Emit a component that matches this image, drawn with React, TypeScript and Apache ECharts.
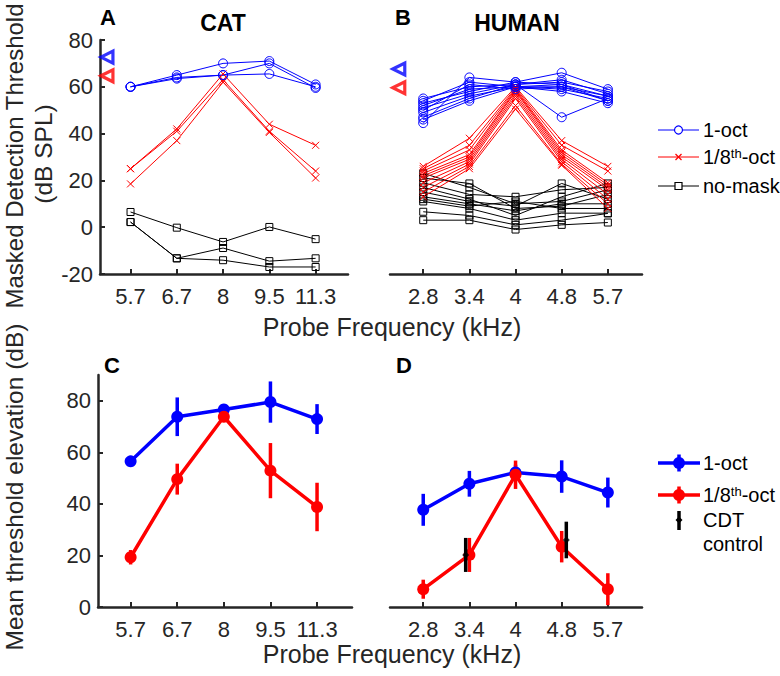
import React, { useEffect, useRef } from 'react';
import * as echarts from 'echarts';

// ---------- data ----------
const catFreqLabels = ['5.7', '6.7', '8', '9.5', '11.3'];
const humanFreqLabels = ['2.8', '3.4', '4', '4.8', '5.7'];
const tickIdx = [0, 1, 2, 3, 4];
const yTicksTop = [-20, 0, 20, 40, 60, 80];
const yTicksBottom = [0, 20, 40, 60, 80];

// Panel A: individual cats (dB SPL)
const catOct1 = [
  [60, 65, 70, 71, 61],
  [60, 64, 65, 70, 59.5],
  [60, 63.5, 65, 65.5, 60],
];
const catOct8 = [
  [25, 42, 65.5, 44, 35],
  [25, 41, 63, 41, 24],
  [18.5, 37, 62, 40.5, 21],
];
const catNoMask = [
  [6.5, -0.2, -6.3, 0.1, -5.1],
  [2.2, -13.3, -8.9, -14.5, -13.3],
  [2.2, -13.3, -14.1, -17, -17],
];
const catRefX = -0.51;
const catRefLevels = [72.7, 64.7]; // 1-oct, 1/8th-oct

// Panel B: individual humans (dB SPL)
const humanOct1 = [
  [55, 60, 61, 63, 57],
  [54, 62, 60, 61, 56],
  [53, 58, 62, 66, 59],
  [52, 59, 60, 59, 55],
  [51, 57, 61, 62, 58],
  [50, 61, 59, 60, 54],
  [49, 56, 60, 58, 53],
  [47, 55, 61, 47, 55],
  [46, 54, 60, 60, 56],
  [44.5, 64, 62, 61, 54],
];
const humanOct8 = [
  [26, 38, 60, 37, 26],
  [25, 35, 59.5, 35, 24],
  [24, 33, 59, 33, 19],
  [23, 31, 58.5, 32, 18],
  [22, 30, 58, 31, 17],
  [21, 29, 57, 30, 16],
  [19, 28, 56, 29, 14],
  [17, 27, 55, 28, 12],
  [15, 26, 52, 27, 10],
  [13, 25, 50.5, 26.5, 8],
];
const humanNoMask = [
  [23, 17, 10, 11, 16],
  [21, 18.7, 8, 9, 14],
  [19, 14, 13, 16, 17],
  [17, 12, 5, 13, 18.7],
  [15, 11, 9, 18.7, 12],
  [13, 10, 7, 10, 10],
  [12, 9, 11, 8, 8],
  [11, 8, 3, 6, 6],
  [6.6, 5, 1, 3, 5.9],
  [3, 3, -1, 1, 2],
];
const humanRefX = -0.53;
const humanRefLevels = [67.6, 59.6];

// Panel C: cat means (dB)
const catMean1 = [56.5, 73.8, 76.6, 79.5, 72.9];
const catErr1 = [1.2, 7.5, 1.0, 8.0, 5.8];
const catMean8 = [19.3, 49.6, 73.8, 52.9, 38.8];
const catErr8 = [2.8, 6.0, 2.0, 10.7, 9.4];

// Panel D: human means (dB)
const humMean1 = [37.7, 47.8, 52.2, 50.6, 44.4];
const humErr1 = [6.2, 5.0, 3.0, 6.3, 5.8];
const humMean8 = [6.9, 20.2, 51.3, 23.4, 6.9];
const humErr8 = [3.7, 6.6, 5.5, 6.1, 6.2];
const cdtX = [0.92, 3.1];
const cdtMean = [20.2, 26.0];
const cdtErr = [6.6, 7.1];

// ---------- styles ----------
const FONT = '"Liberation Sans", Arial, Helvetica, sans-serif';
const AX = '#262626';
const BLUE = '#0000ff';
const RED = '#ff0000';
const BLACK = '#000000';
const X_PATH = 'path://M0,0L10,10M10,0L0,10';

const toPts = (vals: number[]) => vals.map((v, i) => [i, v]);

function xAxisCfg(grid: number, min: number, max: number, labels: string[]) {
  return {
    type: 'value', gridIndex: grid, min, max,
    axisLine: { show: true, onZero: false, lineStyle: { color: AX, width: 2.5 } },
    axisTick: { show: true, inside: true, length: 5, customValues: tickIdx, lineStyle: { color: AX, width: 2 } },
    axisLabel: {
      show: true, customValues: tickIdx, margin: 11, color: AX, fontSize: 22, fontFamily: FONT,
      formatter: (v: number) => labels[Math.round(v)] ?? '',
    },
    splitLine: { show: false },
  };
}

function yAxisCfg(grid: number, min: number, max: number, ticks: number[], visible: boolean) {
  return {
    type: 'value', gridIndex: grid, min, max,
    axisLine: { show: visible, onZero: false, lineStyle: { color: AX, width: 2.5 } },
    axisTick: { show: visible, inside: true, length: 5, customValues: ticks, lineStyle: { color: AX, width: 2 } },
    axisLabel: { show: visible, customValues: ticks, margin: 7, color: AX, fontSize: 22, fontFamily: FONT },
    splitLine: { show: false },
  };
}

function subjectSeries(groups: number[][], ax: number, color: string, symbol: string, size: number) {
  return groups.map((vals) => ({
    type: 'line', xAxisIndex: ax, yAxisIndex: ax, data: toPts(vals),
    symbol, symbolSize: size, showSymbol: true, silent: true,
    lineStyle: { color, width: 1 },
    itemStyle: { color: 'rgba(0,0,0,0)', borderColor: color, borderWidth: 1 },
    emphasis: { disabled: true }, z: 2,
  }));
}

function refSeries(ax: number, x: number, levels: number[]) {
  return [BLUE, RED].map((c, i) => ({
    type: 'scatter', xAxisIndex: ax, yAxisIndex: ax, data: [[x, levels[i]]],
    symbol: 'triangle', symbolRotate: 90, symbolSize: 12, silent: true,
    itemStyle: { color: '#ffffff', borderColor: c, borderWidth: 3.2 }, z: 3,
  }));
}

const errRender = (color: string, width: number) => (_p: any, api: any) => {
  const x = api.value(0);
  const y = api.value(1);
  const e = api.value(2);
  const a = api.coord([x, y + e]);
  const b = api.coord([x, y - e]);
  return {
    type: 'line',
    shape: { x1: a[0], y1: a[1], x2: b[0], y2: b[1] },
    style: { stroke: color, lineWidth: width },
  };
};

function meanSeries(ax: number, means: number[], errs: number[], color: string) {
  return [
    {
      type: 'custom', xAxisIndex: ax, yAxisIndex: ax, silent: true,
      data: means.map((v, i) => [i, v, errs[i]]), encode: { x: 0, y: 1 },
      renderItem: errRender(color, 3.5), z: 3,
    },
    {
      type: 'line', xAxisIndex: ax, yAxisIndex: ax, data: toPts(means), silent: true,
      symbol: 'circle', symbolSize: 12, showSymbol: true,
      lineStyle: { color, width: 3.5 }, itemStyle: { color }, emphasis: { disabled: true }, z: 3,
    },
  ];
}

function txt(x: number, y: number, text: string, size: number, o: any = {}) {
  return {
    type: 'text', x, y, rotation: o.rotation || 0, silent: true,
    style: {
      text, fontSize: size, fontFamily: FONT, fontWeight: o.bold ? 'bold' : 'normal',
      fill: o.color || AX, align: o.align || 'center', verticalAlign: 'middle',
      ...(o.rich ? { rich: o.rich } : {}),
    },
  };
}

const supRich = { sup: { fontSize: 13, fontFamily: FONT, fill: BLACK, verticalAlign: 'top', lineHeight: 12 } };

function buildGraphic() {
  const g: any[] = [];
  // panel letters and titles
  g.push(txt(108, 17, 'A', 22, { bold: true, color: BLACK }));
  g.push(txt(223, 23, 'CAT', 23, { bold: true, color: BLACK }));
  g.push(txt(403, 17, 'B', 22, { bold: true, color: BLACK }));
  g.push(txt(517, 23, 'HUMAN', 23, { bold: true, color: BLACK }));
  g.push(txt(112, 365, 'C', 22, { bold: true, color: BLACK }));
  g.push(txt(404, 365, 'D', 22, { bold: true, color: BLACK }));
  // axis titles
  g.push(txt(14, 156, 'Masked Detection Threshold', 24, { rotation: Math.PI / 2 }));
  g.push(txt(43, 154, '(dB SPL)', 24.5, { rotation: Math.PI / 2 }));
  g.push(txt(14, 487, 'Mean threshold elevation (dB)', 24.5, { rotation: Math.PI / 2 }));
  g.push(txt(392, 327, 'Probe Frequency (kHz)', 25));
  g.push(txt(392, 654, 'Probe Frequency (kHz)', 25));

  // top legend
  const lx0 = 658, lx1 = 699, mx = 678.5, tx = 703;
  const topItems = [
    { y: 130, color: BLUE, label: '1-oct', m: 'circle' },
    { y: 157, color: RED, label: '1/8{sup|th}-oct', m: 'x' },
    { y: 186, color: BLACK, label: 'no-mask', m: 'square' },
  ];
  topItems.forEach((it) => {
    g.push({ type: 'line', silent: true, shape: { x1: lx0, y1: it.y, x2: lx1, y2: it.y }, style: { stroke: it.color, lineWidth: 1 } });
    if (it.m === 'circle') {
      g.push({ type: 'circle', silent: true, shape: { cx: mx, cy: it.y, r: 4 }, style: { fill: '#fff', stroke: it.color, lineWidth: 1.2 } });
    } else if (it.m === 'x') {
      g.push({ type: 'line', silent: true, shape: { x1: mx - 3, y1: it.y - 3, x2: mx + 3, y2: it.y + 3 }, style: { stroke: it.color, lineWidth: 1.2 } });
      g.push({ type: 'line', silent: true, shape: { x1: mx - 3, y1: it.y + 3, x2: mx + 3, y2: it.y - 3 }, style: { stroke: it.color, lineWidth: 1.2 } });
    } else {
      g.push({ type: 'rect', silent: true, shape: { x: mx - 3.5, y: it.y - 3.5, width: 7, height: 7 }, style: { fill: '#fff', stroke: it.color, lineWidth: 1.2 } });
    }
    g.push(txt(tx, it.y, it.label, 20, { align: 'left', color: BLACK, rich: supRich }));
  });

  // bottom legend
  const botItems = [
    { y: 463, color: BLUE, label: '1-oct' },
    { y: 495, color: RED, label: '1/8{sup|th}-oct' },
  ];
  botItems.forEach((it) => {
    g.push({ type: 'line', silent: true, shape: { x1: lx0, y1: it.y, x2: 700, y2: it.y }, style: { stroke: it.color, lineWidth: 3.5 } });
    g.push({ type: 'line', silent: true, shape: { x1: 679, y1: it.y - 8.5, x2: 679, y2: it.y + 8.5 }, style: { stroke: it.color, lineWidth: 3.5 } });
    g.push({ type: 'circle', silent: true, shape: { cx: 679, cy: it.y, r: 6 }, style: { fill: it.color } });
    g.push(txt(tx, it.y, it.label, 20, { align: 'left', color: BLACK, rich: supRich }));
  });
  g.push({ type: 'line', silent: true, shape: { x1: 679, y1: 511, x2: 679, y2: 530 }, style: { stroke: BLACK, lineWidth: 3.5 } });
  g.push({ type: 'polygon', silent: true, shape: { points: [[679, 516.5], [682.5, 520], [679, 523.5], [675.5, 520]] }, style: { fill: BLACK } });
  g.push(txt(tx, 520, 'CDT', 20, { align: 'left', color: BLACK }));
  g.push(txt(tx, 544, 'control', 20, { align: 'left', color: BLACK }));
  return g;
}

export default function App() {
  const ref = useRef<HTMLDivElement>(null);
  useEffect(() => {
    if (!ref.current) return;
    const chart = echarts.init(ref.current, undefined, { renderer: 'svg' });
    const series: any[] = [
      ...subjectSeries(catNoMask, 0, BLACK, 'rect', 7),
      ...subjectSeries(catOct8, 0, RED, X_PATH, 7),
      ...subjectSeries(catOct1, 0, BLUE, 'circle', 9),
      ...refSeries(0, catRefX, catRefLevels),
      ...subjectSeries(humanNoMask, 1, BLACK, 'rect', 7),
      ...subjectSeries(humanOct8, 1, RED, X_PATH, 7),
      ...subjectSeries(humanOct1, 1, BLUE, 'circle', 9),
      ...refSeries(1, humanRefX, humanRefLevels),
      ...meanSeries(2, catMean1, catErr1, BLUE),
      ...meanSeries(2, catMean8, catErr8, RED),
      ...meanSeries(3, humMean1, humErr1, BLUE),
      ...meanSeries(3, humMean8, humErr8, RED),
      {
        type: 'custom', xAxisIndex: 3, yAxisIndex: 3, silent: true,
        data: cdtMean.map((v, i) => [cdtX[i], v, cdtErr[i]]), encode: { x: 0, y: 1 },
        renderItem: errRender(BLACK, 3.5), z: 4,
      },
      {
        type: 'scatter', xAxisIndex: 3, yAxisIndex: 3, silent: true,
        data: cdtMean.map((v, i) => [cdtX[i], v]),
        symbol: 'diamond', symbolSize: 7, itemStyle: { color: BLACK }, z: 4,
      },
    ];
    chart.setOption({
      animation: false,
      backgroundColor: '#ffffff',
      grid: [
        { left: 100, top: 40, width: 248, height: 234 },
        { left: 390, top: 40, width: 252, height: 234 },
        { left: 98, top: 375, width: 254, height: 232 },
        { left: 390, top: 375, width: 252, height: 232 },
      ],
      xAxis: [
        xAxisCfg(0, -0.66, 4.7, catFreqLabels),
        xAxisCfg(1, -0.72, 4.74, humanFreqLabels),
        xAxisCfg(2, -0.7, 4.75, catFreqLabels),
        xAxisCfg(3, -0.72, 4.74, humanFreqLabels),
      ],
      yAxis: [
        yAxisCfg(0, -20, 80, yTicksTop, true),
        yAxisCfg(1, -20, 80, yTicksTop, false),
        yAxisCfg(2, 0, 90, yTicksBottom, true),
        yAxisCfg(3, 0, 90, yTicksBottom, false),
      ],
      series,
      graphic: buildGraphic(),
    });
    return () => chart.dispose();
  }, []);
  return (
    <div
      ref={ref}
      style={{ position: 'fixed', left: 0, top: 0, width: 780, height: 676, background: '#fff' }}
    />
  );
}
